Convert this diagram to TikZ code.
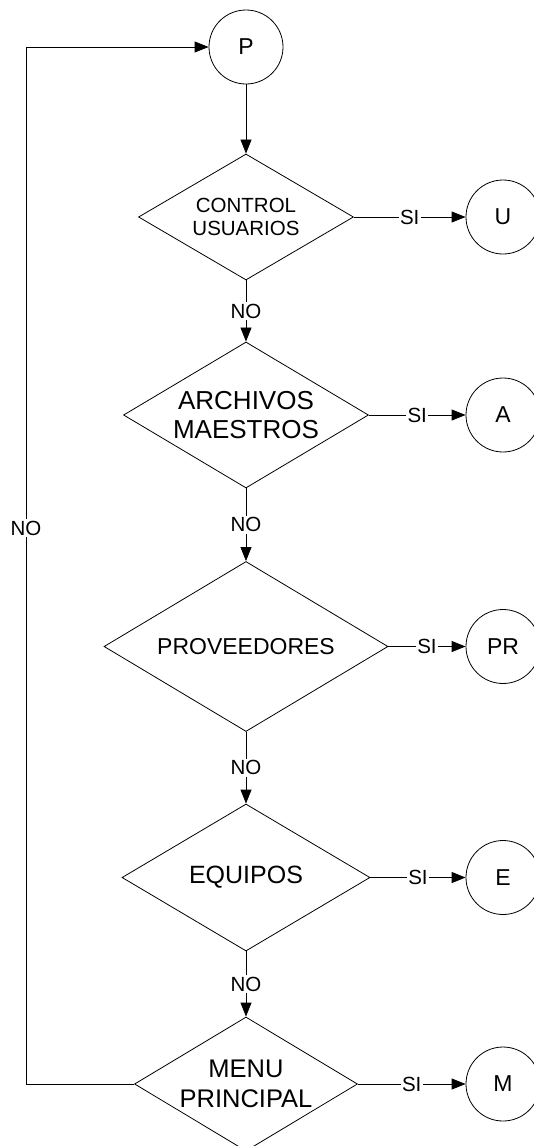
\documentclass[tikz,border=0pt]{standalone}
\usepackage{fontspec}
\setmainfont{Liberation Sans}
\usetikzlibrary{shapes.geometric,arrows.meta}
\begin{document}
\begin{tikzpicture}[x=1pt,y=-1pt,
  decision/.style={draw, diamond, line width=0.8pt, align=center, inner sep=0pt,
    aspect=1.68},
  conn/.style={draw, circle, line width=0.8pt, minimum size=74pt, inner sep=0pt,
    font=\fontsize{23}{26}\selectfont},
  flow/.style={line width=0.8pt, -{Triangle[length=14pt,width=11pt]}},
  lbl/.style={fill=white, inner sep=1.5pt, font=\fontsize{20.5}{23}\selectfont}
]
\useasboundingbox (0,0) rectangle (533,1146);

% start connector
\node[conn] (p) at (246,47) {P};

% decision chain
\node[decision, minimum width=215pt, minimum height=126pt, aspect=1.71,
      font=\fontsize{20.5}{23.5}\selectfont] (c1) at (246,217) {CONTROL\\USUARIOS};
\node[decision, minimum width=245pt, minimum height=146pt,
      font=\fontsize{26}{29}\selectfont] (c2) at (246,415) {ARCHIVOS\\MAESTROS};
\node[decision, minimum width=284pt, minimum height=170pt,
      font=\fontsize{23}{26}\selectfont] (c3) at (246,646.5) {PROVEEDORES};
\node[decision, minimum width=248pt, minimum height=147pt,
      font=\fontsize{25}{28}\selectfont] (c4) at (246,877.5) {EQUIPOS};
\node[decision, minimum width=223pt, minimum height=134pt, inner sep=-3pt,
      font=\fontsize{25.5}{30.5}\selectfont] (c5) at (246,1084) {MENU\\PRINCIPAL};

% off-page connectors
\node[conn] (u)  at (503,217)    {U};
\node[conn] (a)  at (503,415)    {A};
\node[conn] (pr) at (503,646.5)  {PR};
\node[conn] (e)  at (503,877.5)  {E};
\node[conn] (m)  at (503,1084)   {M};

% main flow
\draw[flow] (p) -- (c1);
\draw[flow] (c1) -- node[lbl]{NO} (c2);
\draw[flow] (c2) -- node[lbl]{NO} (c3);
\draw[flow] (c3) -- node[lbl]{NO} (c4);
\draw[flow] (c4) -- node[lbl]{NO} (c5);

% yes branches
\draw[flow] (c1.east) -- node[lbl]{SI} (u.west);
\draw[flow] (c2.east) -- node[lbl]{SI} (a.west);
\draw[flow] (c3.east) -- node[lbl]{SI} (pr.west);
\draw[flow] (c4.east) -- node[lbl]{SI} (e.west);
\draw[flow] (c5.east) -- node[lbl]{SI} (m.west);

% loop back to start
\coordinate (lb) at (26,1084);
\coordinate (lt) at (26,47);
\draw[flow] (c5.west) -- (lb) -- node[lbl, pos=0.536]{NO} (lt) -- (p.west);
\end{tikzpicture}
\end{document}
